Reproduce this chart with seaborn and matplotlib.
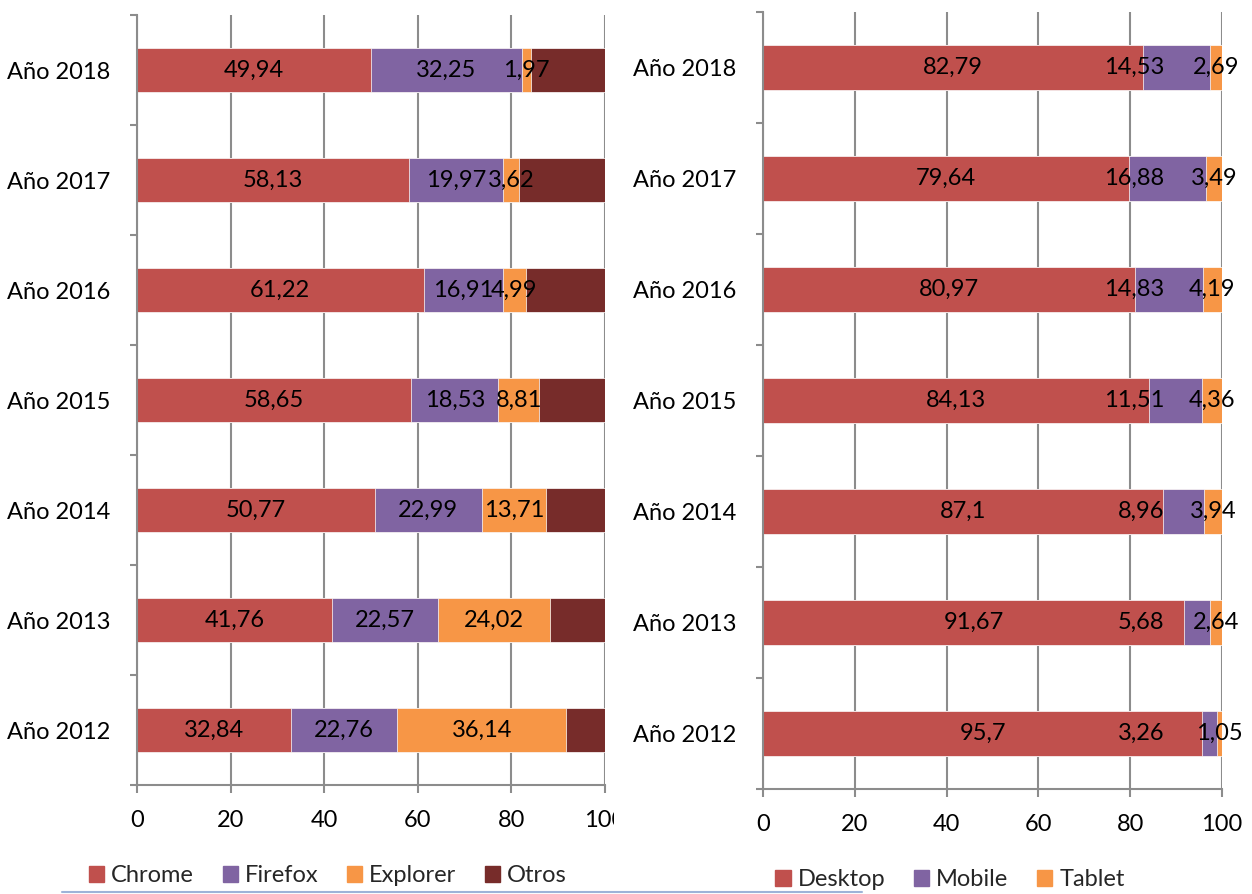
import pandas as pd
import matplotlib
matplotlib.use("Agg")
import matplotlib.pyplot as plt
import seaborn as sns
from matplotlib.patches import Patch
from matplotlib.lines import Line2D
from matplotlib.transforms import Bbox, TransformedBbox

# datos
years = ["Año 2018", "Año 2017", "Año 2016", "Año 2015", "Año 2014", "Año 2013", "Año 2012"]

chrome = [49.94, 58.13, 61.22, 58.65, 50.77, 41.76, 32.84]
firefox = [32.25, 19.97, 16.91, 18.53, 22.99, 22.57, 22.76]
explorer = [1.97, 3.62, 4.99, 8.81, 13.71, 24.02, 36.14]
otros = [15.84, 18.28, 16.88, 14.01, 12.53, 11.65, 8.26]

desktop = [82.79, 79.64, 80.97, 84.13, 87.1, 91.67, 95.7]
mobile = [14.53, 16.88, 14.83, 11.51, 8.96, 5.68, 3.26]
tablet = [2.69, 3.49, 4.19, 4.36, 3.94, 2.64, 1.05]

x_ticks = [0, 20, 40, 60, 80, 100]

RED = "#C0504D"
PURPLE = "#8064A2"
ORANGE = "#F79646"
DARK = "#772C2A"
GRID = "#8c8c8c"

sns.set_theme(style="white")
plt.rcParams["font.family"] = ["Lato", "DejaVu Sans"]

fig = plt.figure(figsize=(12.52, 8.94), dpi=100)
ax1 = fig.add_axes([137 / 1252, 1 - 785 / 894, 468 / 1252, 770 / 894])
ax2 = fig.add_axes([763 / 1252, 1 - 789 / 894, 459 / 1252, 777 / 894])

FS = 17


def stacked(ax, df, colors, labelled, mobile_anchor=None):
    cum = df.cumsum(axis=1)
    # dibujar de mayor a menor acumulado para simular el apilado
    for name in reversed(list(df.columns)):
        sns.barplot(x=cum[name].values, y=years, order=years, orient="h",
                    color=colors[name], saturation=1, width=0.4,
                    edgecolor="white", linewidth=0.5, ax=ax)
    for name in labelled:
        for i, (v, c) in enumerate(zip(df[name], cum[name])):
            txt = str(v).replace(".", ",")
            if mobile_anchor is not None and name == "Mobile":
                ax.text(mobile_anchor, i, txt, ha="right", va="center", fontsize=FS, color="black")
            else:
                ax.text(c - v / 2, i, txt, ha="center", va="center", fontsize=FS, color="black")

    ax.set_xlim(0, 100)
    ax.set_xticks(x_ticks)
    ax.set_xticklabels([str(t) for t in x_ticks])
    ax.set_xlabel("")
    ax.set_ylabel("")
    ax.xaxis.grid(True, color=GRID, lw=1.5)
    ax.yaxis.grid(False)
    ax.set_axisbelow(True)
    for s in ["top", "right"]:
        ax.spines[s].set_visible(False)
    for s in ["left", "bottom"]:
        ax.spines[s].set_color(GRID)
        ax.spines[s].set_linewidth(1.5)
    ax.set_yticks([i - 0.5 for i in range(len(years) + 1)], minor=True)
    ax.tick_params(axis="y", which="major", length=0, pad=19, labelsize=FS, labelcolor="black")
    ax.tick_params(axis="y", which="minor", length=5, width=1.5, color=GRID, direction="out", left=True)
    ax.tick_params(axis="x", which="major", length=6, width=1.5, color=GRID, direction="out",
                   bottom=True, pad=12, labelsize=FS, labelcolor="black")


left_df = pd.DataFrame({"Chrome": chrome, "Firefox": firefox, "Explorer": explorer, "Otros": otros})
stacked(ax1, left_df, {"Chrome": RED, "Firefox": PURPLE, "Explorer": ORANGE, "Otros": DARK},
        ["Chrome", "Firefox", "Explorer"])

right_df = pd.DataFrame({"Desktop": desktop, "Mobile": mobile, "Tablet": tablet})
stacked(ax2, right_df, {"Desktop": RED, "Mobile": PURPLE, "Tablet": ORANGE},
        ["Desktop", "Mobile", "Tablet"], mobile_anchor=87.5)

# la etiqueta "100" del grafico izquierdo aparece recortada
lbl = ax1.xaxis.get_major_ticks()[-1].label1
lbl.set_clip_box(TransformedBbox(Bbox.from_extents(0, 0, 614 / 1252, 1), fig.transFigure))
lbl.set_clip_on(True)

leg_kw = dict(frameon=False, fontsize=FS, handlelength=0.65, handleheight=0.65,
              handletextpad=0.3, columnspacing=1.2, loc="center")
fig.legend(handles=[Patch(color=RED, label="Chrome"), Patch(color=PURPLE, label="Firefox"),
                    Patch(color=ORANGE, label="Explorer"), Patch(color=DARK, label="Otros")],
           ncol=4, bbox_to_anchor=(328 / 1252, 1 - 876 / 894), **leg_kw)
fig.legend(handles=[Patch(color=RED, label="Desktop"), Patch(color=PURPLE, label="Mobile"),
                    Patch(color=ORANGE, label="Tablet")],
           ncol=3, bbox_to_anchor=(950 / 1252, 1 - 880 / 894), **leg_kw)

fig.add_artist(Line2D([62 / 1252, 862 / 1252], [1 - 892 / 894] * 2, color="#9db3d8", lw=1.5,
                      transform=fig.transFigure))

fig.savefig("out.png", dpi=100)
